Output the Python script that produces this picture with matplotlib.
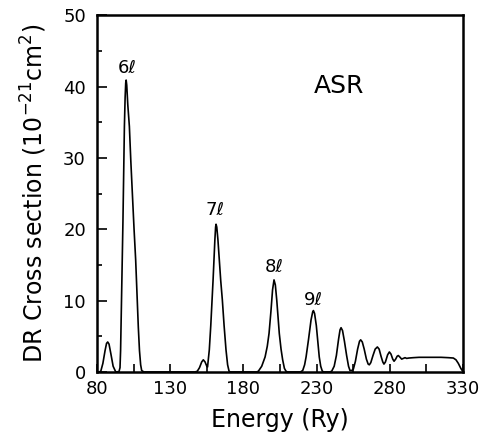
import matplotlib
matplotlib.use('Agg')
import matplotlib.pyplot as plt
from matplotlib.ticker import MultipleLocator

# traced curve, energy (Ry) vs DR cross section (1e-21 cm^2)
energy = [80, 82.5, 84, 85.5, 86.5, 87.3, 88.2, 89.5, 91, 92.8,
          95.0, 95.7, 96.1, 96.4, 96.9, 97.3, 97.7, 98.0, 98.4, 98.7, 99.2, 99.6, 99.9,
          100.3, 101.0, 102.1, 103.1, 104.1, 105.3, 106.4, 107.3, 108.2, 109.0, 109.8, 110.5, 112,
          147, 148.5, 150, 151.5, 152.6, 153.8, 155.0, 155.5,
          156.7, 157.7, 158.6, 159.3, 159.9, 160.5, 161.0, 161.3, 161.8, 162.6, 163.5,
          164.5, 165.6, 166.8, 168.1, 169.2, 170.2, 171,
          189, 190.2, 192.5, 194.8, 196.3, 197.5, 198.8, 199.9, 200.9, 201.8, 202.8,
          203.7, 204.5, 205.7, 206.8, 208, 209.1, 210,
          219, 220.5, 221.8, 222.8, 224.5, 226.2, 227.3, 227.8, 228.6, 229.8, 231,
          231.8, 232.8, 233.9, 235,
          239, 240.3, 242, 243.5, 245, 246, 246.7, 247.7, 249, 250.5, 251.8, 252.8, 254, 255.1,
          256.5, 258, 259.3, 260.1, 261.2, 262.5, 264, 265.2, 266,
          267, 268.5, 270, 271.5, 272.7, 274, 275.2, 276,
          277, 278.5, 279.7, 280.8, 282, 282.9,
          284, 285, 285.8, 286.8, 288.1, 289.3, 290.4, 291.5,
          293, 296, 300, 305, 310, 315, 320, 323.4, 325.2, 326.8, 328.5, 329.8, 330]
sigma = [0, 0.05, 1.2, 3.0, 4.0, 4.2, 3.9, 2.5, 0.8, 0,
         0.05, 0.6, 3, 6.3, 11, 15.7, 21, 25.1, 30, 34.4, 38.5, 40.5, 40.9,
         40.2, 37.5, 34.4, 29.5, 25.1, 20, 15.7, 11, 6.3, 3.0, 1.0, 0.2, 0,
         0, 0.1, 0.6, 1.4, 1.7, 1.4, 0.8, 0.7,
         3.1, 6.5, 10.1, 13, 15.7, 18.5, 20.3, 20.7, 20.3, 18.5, 15.7,
         12.8, 10.1, 6.5, 3.1, 1.0, 0.1, 0,
         0, 0.1, 0.8, 2.1, 3.6, 5.4, 8.5, 11.5, 12.9, 12.2, 10,
         7.5, 5.4, 3.2, 1.7, 0.5, 0.1, 0,
         0, 0.2, 1.0, 2.1, 4.6, 7.3, 8.4, 8.6, 8.2, 6.5, 3.8,
         2.1, 0.8, 0.1, 0,
         0, 0.1, 0.8, 2.3, 4.6, 5.9, 6.2, 5.8, 4.3, 2.3, 0.8, 0.2, 0.2, 0.4,
         1.5, 3.2, 4.3, 4.5, 4.2, 3.2, 1.8, 1.1, 1.0,
         1.3, 2.3, 3.2, 3.5, 3.2, 2.2, 1.4, 1.1,
         1.4, 2.4, 2.8, 2.5, 1.8, 1.5,
         1.8, 2.2, 2.3, 2.1, 1.8, 1.9, 2.0, 1.9,
         1.95, 2.0, 2.05, 2.05, 2.05, 2.05, 2.0, 1.95, 1.7, 1.2, 0.5, 0.1, 0]

peak_labels = ['6\u2113', '7\u2113', '8\u2113', '9\u2113']
label_x = [100.5, 160.6, 201, 228]
label_y = [42.6, 22.7, 14.7, 10.1]

x_ticks = [80, 130, 180, 230, 280, 330]
x_minor = [105, 155, 205, 255, 305]

fig = plt.figure(figsize=(4.91, 4.33), dpi=100)
ax = fig.add_axes([0.1976, 0.141, 0.7454, 0.824])

ax.plot(energy, sigma, color='black', lw=1.2)

for txt, x, y in zip(peak_labels, label_x, label_y):
    ax.text(x, y, txt, ha='center', va='center', fontsize=13)
ax.text(245, 40.1, 'ASR', ha='center', va='center', fontsize=18)

ax.set_xlim(80, 330)
ax.set_ylim(0, 50)
ax.set_xticks(x_ticks)
ax.set_xticks(x_minor, minor=True)
ax.yaxis.set_major_locator(MultipleLocator(10))
ax.yaxis.set_minor_locator(MultipleLocator(5))
ax.tick_params(which='both', direction='in', width=1.2, labelsize=13, top=False, right=False)
ax.tick_params(axis='x', which='both', length=6, pad=6)
ax.tick_params(axis='y', which='major', length=7, pad=8)
ax.tick_params(axis='y', which='minor', length=3.5)
for s in ax.spines.values():
    s.set_linewidth(1.8)

ax.set_xlabel('Energy (Ry)', fontsize=17, labelpad=7)
ax.set_ylabel('DR Cross section (10$^{-21}$cm$^{2}$)', fontsize=17, labelpad=10)

fig.savefig('out.png', dpi=100)
